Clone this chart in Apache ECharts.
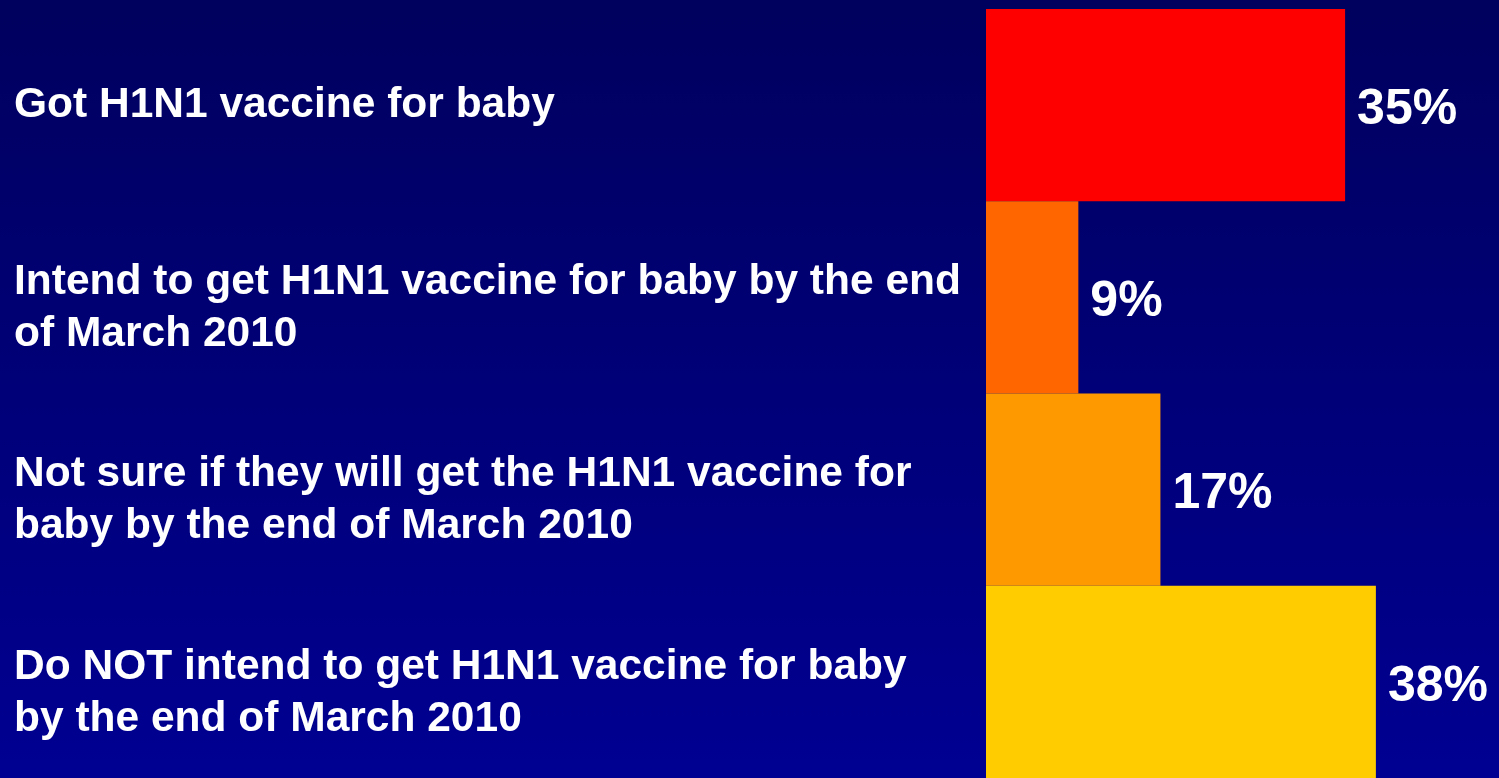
<!DOCTYPE html>
<html>
<head>
<meta charset="utf-8">
<script src="https://cdn.jsdelivr.net/npm/echarts@6/dist/echarts.min.js"></script>
<style>
  html, body { margin: 0; padding: 0; }
  #chart { width: 1499px; height: 778px; }
</style>
</head>
<body>
<div id="chart"></div>
<script>
// data
const categories = [
  'Got H1N1 vaccine for baby',
  'Intend to get H1N1 vaccine for baby by the end\nof March 2010',
  'Not sure if they will get the H1N1 vaccine for\nbaby by the end of March 2010',
  'Do NOT intend to get H1N1 vaccine for baby\nby the end of March 2010'
];
const percents = [35, 9, 17, 38];

// one colour per bar
const palette = ['#ff0000', '#ff6600', '#ff9900', '#ffcc00'];

const chart = echarts.init(document.getElementById('chart'));

const option = {
  backgroundColor: {
    type: 'linear', x: 0, y: 0, x2: 0, y2: 1,
    colorStops: [
      { offset: 0, color: '#00005e' },
      { offset: 1, color: '#000092' }
    ]
  },
  textStyle: { fontFamily: 'Liberation Sans, Arial, sans-serif' },
  grid: { left: 986, right: 0, top: 9, bottom: 0 },
  xAxis: {
    type: 'value',
    min: 0,
    max: 50,
    show: false
  },
  yAxis: {
    type: 'category',
    data: categories,
    inverse: true,
    axisLine: { show: false },
    axisTick: { show: false },
    axisLabel: {
      align: 'left',
      margin: 972,
      color: '#ffffff',
      fontSize: 42.5,
      fontWeight: 'bold',
      lineHeight: 52,
      // two-line labels sit a little below the bar centre in the original
      formatter: v => v.indexOf('\n') >= 0 ? '{gap| }\n' + v : v,
      rich: {
        gap: { fontSize: 1, lineHeight: 22 }
      }
    }
  },
  series: [{
    type: 'bar',
    barCategoryGap: 0,
    data: percents.map((v, i) => ({ value: v, itemStyle: { color: palette[i] } })),
    label: {
      show: true,
      position: 'right',
      distance: 12,
      offset: [0, 5],
      formatter: '{c}%',
      color: '#ffffff',
      fontSize: 50,
      fontWeight: 'bold'
    },
    animation: false
  }]
};

chart.setOption(option);
</script>
</body>
</html>
